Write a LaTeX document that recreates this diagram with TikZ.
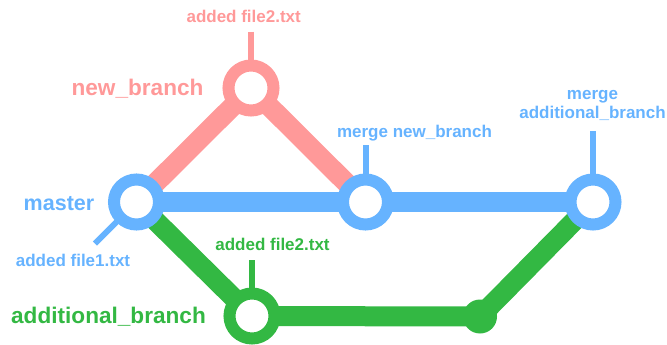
\documentclass[tikz,border=0pt]{standalone}
\usepackage{fontspec}
\setmainfont{Liberation Sans}
\usetikzlibrary{backgrounds}
\definecolor{gitblue}{HTML}{66B3FF}
\definecolor{gitpink}{HTML}{FF9999}
\definecolor{gitgreen}{HTML}{33B843}

\begin{document}
\begin{tikzpicture}[x=1pt,y=-1pt,
  commit/.style={circle, draw=#1, fill=white, line width=12pt, minimum size=45pt, inner sep=0pt},
  dotcommit/.style={circle, fill=#1, minimum size=34pt, inner sep=0pt},
  branchline/.style={draw=#1, line width=20pt, line join=round},
  tick/.style={draw=#1, line width=6pt},
  small/.style={text=#1, font=\fontsize{17}{19}\selectfont\bfseries, inner sep=0pt, anchor=base, align=center},
  big/.style={text=#1, font=\fontsize{22.6}{26}\selectfont\bfseries, inner sep=0pt, anchor=base}]

\useasboundingbox (0,0) rectangle (667,345);

% commits
\node[commit=gitblue]  (master) at (136.5,202) {};
\node[commit=gitpink]  (newb)   at (251,88) {};
\node[commit=gitblue]  (mergeN) at (365.5,202) {};
\node[commit=gitblue]  (mergeA) at (593,202) {};
\node[commit=gitgreen] (addb)   at (252,316) {};
\node[dotcommit=gitgreen] (addb2) at (480,316.5) {};

% branch names
\node[big=gitpink]  (lnew)    at (137.5,95.7) {new\_branch};
\node[big=gitblue, font=\fontsize{21.5}{26}\selectfont\bfseries] (lmaster) at (59,210) {master};
\node[big=gitgreen] (ladd)    at (108.5,323) {additional\_branch};

% commit messages
\node[small=gitpink]  (mNew)    at (243.7,22.7) {added file2.txt};
\node[small=gitblue]  (mMaster) at (73,266) {added file1.txt};
\node[small=gitblue]  (mMergeN) at (414.5,137.3) {merge new\_branch};
\node[small=gitblue]  (mMergeA) at (592.5,118.3) {merge\\additional\_branch};
\node[small=gitgreen] (mAdd)    at (272.5,250) {added file2.txt};

% tick ends
\coordinate (tNew)    at (251,31.7);
\coordinate (tMaster) at (95,243.5);
\coordinate (tMergeN) at (365.5,145);
\coordinate (tMergeA) at (593,131);
\coordinate (tAdd)    at (252,260);

\begin{pgfonlayer}{background}
  \path[branchline=gitpink] (master.center) -- (newb.center) -- (mergeN.center);
  \path[branchline=gitgreen] (master.center) -- (addb.center) -- (addb2.center) -- (mergeA.center);
  \path[branchline=gitblue] (master.center) -- (mergeN.center) -- (mergeA.center);
  \path[tick=gitpink]  (tNew) -- (newb.center);
  \path[tick=gitblue]  (tMaster) -- (master.center);
  \path[tick=gitblue]  (tMergeN) -- (mergeN.center);
  \path[tick=gitblue]  (tMergeA) -- (mergeA.center);
  \path[tick=gitgreen] (tAdd) -- (addb.center);
\end{pgfonlayer}
\end{tikzpicture}
\end{document}
